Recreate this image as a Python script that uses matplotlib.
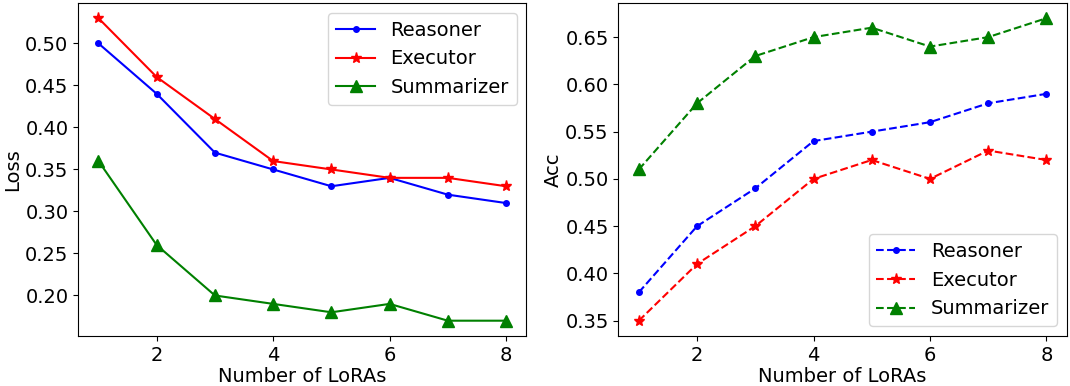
import numpy as np
import matplotlib.pyplot as plt

plt.rcParams['font.size'] = 14

n_loras = [1, 2, 3, 4, 5, 6, 7, 8]

# loss per agent
loss_reasoner = [0.50, 0.44, 0.37, 0.35, 0.33, 0.34, 0.32, 0.31]
loss_executor = [0.53, 0.46, 0.41, 0.36, 0.35, 0.34, 0.34, 0.33]
loss_summarizer = [0.36, 0.26, 0.20, 0.19, 0.18, 0.19, 0.17, 0.17]

# accuracy per agent
acc_reasoner = [0.38, 0.45, 0.49, 0.54, 0.55, 0.56, 0.58, 0.59]
acc_executor = [0.35, 0.41, 0.45, 0.50, 0.52, 0.50, 0.53, 0.52]
acc_summarizer = [0.51, 0.58, 0.63, 0.65, 0.66, 0.64, 0.65, 0.67]

loss_ticks = [0.20, 0.25, 0.30, 0.35, 0.40, 0.45, 0.50]
acc_ticks = [0.35, 0.40, 0.45, 0.50, 0.55, 0.60, 0.65]

fig = plt.figure(figsize=(10.7, 3.86), dpi=100)
ax1 = fig.add_axes([0.073, 0.130, 0.419, 0.862])
ax2 = fig.add_axes([0.578, 0.130, 0.419, 0.862])

ax1.plot(n_loras, loss_reasoner, 'b-', marker='o', markersize=4, label='Reasoner')
ax1.plot(n_loras, loss_executor, 'r-', marker='*', markersize=8, label='Executor')
ax1.plot(n_loras, loss_summarizer, 'g-', marker='^', markersize=8, label='Summarizer')
ax1.set_xlabel('Number of LoRAs', labelpad=2)
ax1.set_ylabel('Loss', labelpad=2)
ax1.set_xticks([2, 4, 6, 8])
ax1.set_yticks(loss_ticks)
ax1.set_yticklabels([f'{t:.2f}' for t in loss_ticks])
ax1.legend(loc='upper right')

ax2.plot(n_loras, acc_reasoner, 'b--', marker='o', markersize=4, label='Reasoner')
ax2.plot(n_loras, acc_executor, 'r--', marker='*', markersize=8, label='Executor')
ax2.plot(n_loras, acc_summarizer, 'g--', marker='^', markersize=8, label='Summarizer')
ax2.set_xlabel('Number of LoRAs', labelpad=2)
ax2.set_ylabel('Acc', labelpad=2)
ax2.set_xticks([2, 4, 6, 8])
ax2.set_yticks(acc_ticks)
ax2.set_yticklabels([f'{t:.2f}' for t in acc_ticks])
ax2.legend(loc='lower right')

plt.savefig('out.png')
